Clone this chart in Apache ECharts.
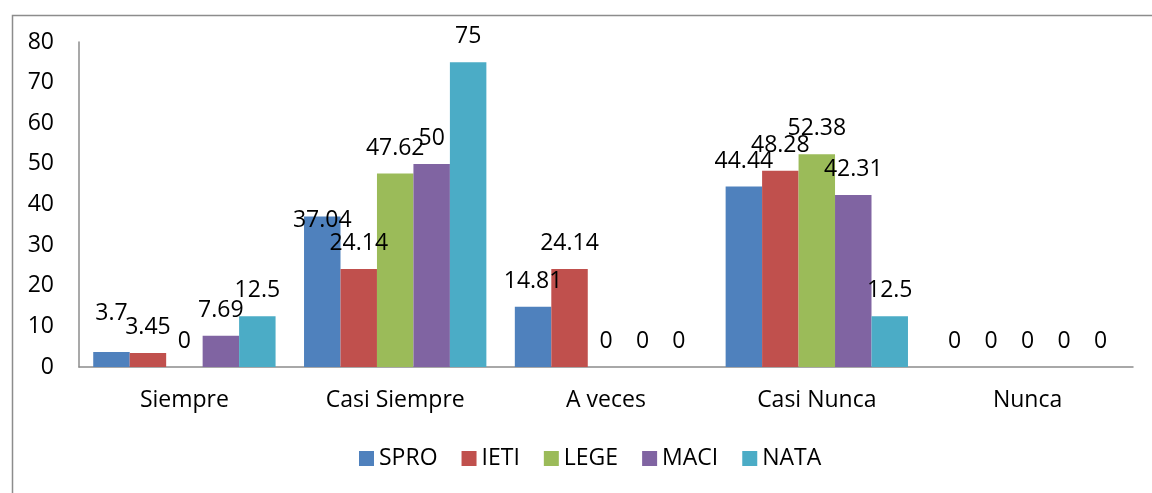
<!DOCTYPE html>
<html>
<head>
<meta charset="utf-8">
<title>Bar chart</title>
<script src="https://cdn.jsdelivr.net/npm/echarts@6/dist/echarts.min.js"></script>
<style>
	html, body { margin: 0; padding: 0; background: #fff; }
	#chart { width: 1152px; height: 493px; }
</style>
</head>
<body>
<div id="chart"></div>
<script>
// categorias del eje x
const categories = ["Siempre", "Casi Siempre", "A veces", "Casi Nunca", "Nunca"]
const seriesNames = ["SPRO", "IETI", "LEGE", "MACI", "NATA"]
// valores de cada serie
const spro = [3.7, 37.04, 14.81, 44.44, 0]
const ieti = [3.45, 24.14, 24.14, 48.28, 0]
const lege = [0, 47.62, 0, 52.38, 0]
const maci = [7.69, 50, 0, 42.31, 0]
const nata = [12.5, 75, 0, 12.5, 0]
const yTicks = [0, 10, 20, 30, 40, 50, 60, 70, 80]

const colors = ["#4F81BD", "#C0504D", "#9BBB59", "#8064A2", "#4BACC6"]
const allValues = [spro, ieti, lege, maci, nata]

// etiquetas que excel movio (serie, categoria) -> desplazamiento vertical
const labelShift = { "0-0": -13, "0-1": 29 }

let myChart = echarts.init(document.getElementById("chart"))

let series = allValues.map((vals, s) => {
	return {
		name: seriesNames[s],
		type: "bar",
		barGap: "0%",
		barCategoryGap: "13.5%",
		itemStyle: { color: colors[s] },
		label: {
			show: true,
			position: "top",
			distance: 14,
			color: "#000",
			fontFamily: "Open Sans",
			fontSize: 23,
		},
		data: vals.map((v, i) => {
			let shift = labelShift[s + "-" + i]
			if (shift == undefined) return v
			return { value: v, label: { offset: [0, shift] } }
		}),
	}
})

let option = {
	animation: false,
	color: colors,
	textStyle: { fontFamily: "Open Sans" },
	graphic: [
		{
			type: "rect",
			left: 10,
			top: 13,
			shape: { width: 1200, height: 600 },
			style: { fill: "none", stroke: "#8c8c8c", lineWidth: 1.5 },
			silent: true,
		},
	],
	grid: {
		left: 79,
		right: 19,
		top: 42,
		bottom: 126,
		containLabel: false,
	},
	legend: {
		data: seriesNames,
		left: 354,
		top: 442,
		icon: "rect",
		itemWidth: 15,
		itemHeight: 15,
		itemGap: 24,
		textStyle: { fontFamily: "Open Sans", fontSize: 23, color: "#000" },
	},
	xAxis: {
		type: "category",
		data: categories,
		axisLine: { lineStyle: { color: "#8c8c8c", width: 1.5 } },
		axisTick: { show: false },
		axisLabel: { color: "#000", fontSize: 23, fontFamily: "Open Sans", margin: 22 },
	},
	yAxis: {
		type: "value",
		min: yTicks[0],
		max: yTicks[yTicks.length - 1],
		interval: 10,
		axisLine: { show: true, lineStyle: { color: "#8c8c8c", width: 1.5 } },
		axisTick: { show: false },
		splitLine: { show: false },
		axisLabel: { color: "#000", fontSize: 23, fontFamily: "Open Sans", margin: 25 },
	},
	series: series,
}
myChart.setOption(option)
</script>
</body>
</html>
